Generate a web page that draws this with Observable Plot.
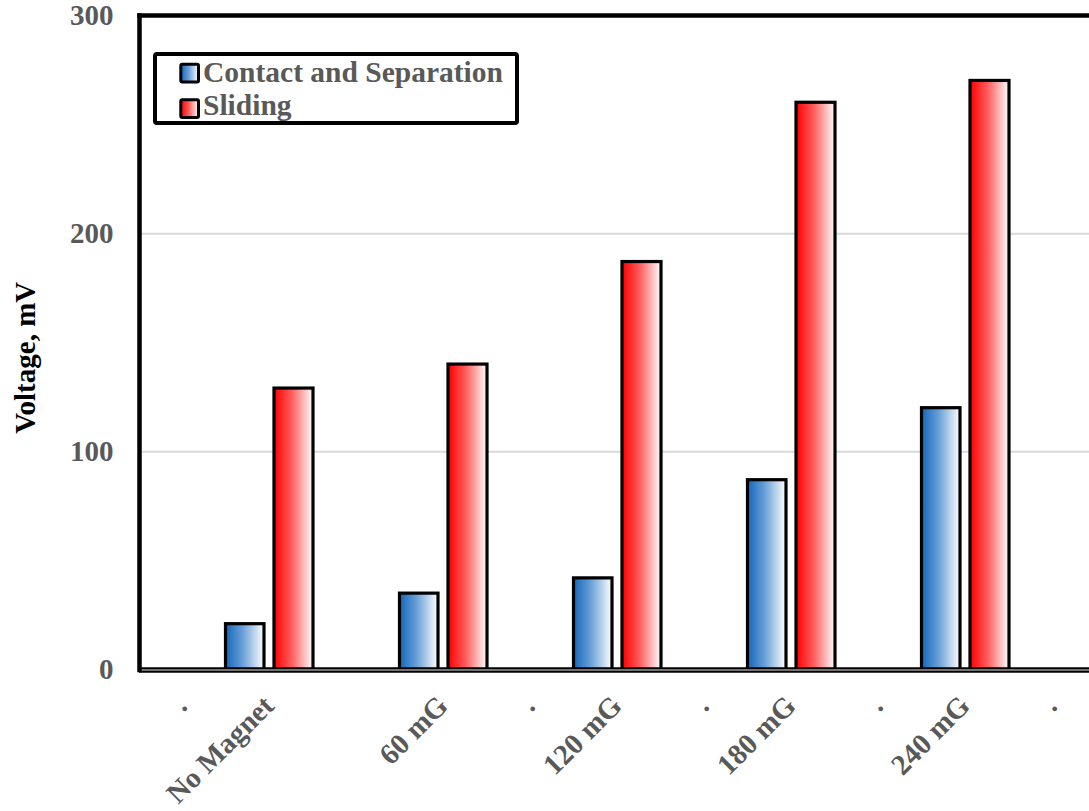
<!DOCTYPE html>
<html><head><meta charset="utf-8">
<script src="https://cdn.jsdelivr.net/npm/d3@7"></script>
<script src="https://cdn.jsdelivr.net/npm/@observablehq/plot@0.6"></script>
<style>
body{margin:0;background:#fff}
#chart{width:1089px;height:811px;overflow:hidden;position:relative;background:#fff}
</style>
</head><body><div id="chart"></div>
<script>
const categories = ["gap0","No Magnet","gap1","60 mG","gap2","120 mG","gap3","180 mG","gap4","240 mG","gap5"];
const tickLabels = [".","No Magnet","","60 mG",".","120 mG",".","180 mG",".","240 mG","."];
const groups = ["No Magnet","60 mG","120 mG","180 mG","240 mG"];
const contactSeparation = [21,35,42,87,120];
const sliding = [129,140,187,260,270];
const yTicks = [0,100,200,300];
const seriesNames = ["Contact and Separation","Sliding"];
const yTitle = "Voltage, mV";

const rows = groups.map((g,i)=>({cat:g, cs:contactSeparation[i], sl:sliding[i]}));
const font = "'Times New Roman','Liberation Serif',serif";
const gray = "#595959";

const svg = Plot.plot({
  width:1089, height:811,
  marginLeft:139, marginTop:15, marginBottom:141.5, marginRight:0,
  style:{fontFamily:font, background:"#fff", overflow:"hidden"},
  x:{type:"band", domain:categories, range:[138,1095], padding:0},
  y:{domain:[0,300]},
  marks:[
    Plot.gridY({ticks:[100,200], stroke:"#d9d9d9", strokeOpacity:1, strokeWidth:2}),
    Plot.barY(rows, {x:"cat", y:"cs", fill:"url(#gradBlue)", stroke:"black", strokeWidth:3.2, insetLeft:0.5, insetRight:48}),
    Plot.barY(rows, {x:"cat", y:"sl", fill:"url(#gradRed)", stroke:"black", strokeWidth:3.2, insetLeft:49, insetRight:-1}),
    Plot.ruleY([0], {stroke:"black", strokeWidth:5.5}),
    Plot.ruleY([0], {stroke:"#9a9a9a", strokeWidth:1.5}),
    Plot.frame({anchor:"left", stroke:"black", strokeWidth:4.5}),
    Plot.frame({anchor:"top", stroke:"black", strokeWidth:4.5}),
    Plot.axisY({ticks:yTicks, tickSize:0, tickPadding:26, label:null, fill:gray, fontSize:29, fontWeight:"bold"}),
    Plot.axisX({tickSize:0, tickRotate:-45, tickPadding:31, label:null, fill:gray, fontSize:29, fontWeight:"bold",
      tickFormat:d=>tickLabels[categories.indexOf(d)]}),
    Plot.text([yTitle], {frameAnchor:"left", textAnchor:"middle", lineAnchor:"middle", dx:-114, dy:15, rotate:-90, fontSize:29, fontWeight:"bold", fill:"black"})
  ]
});

const s = d3.select(svg);
const defs = s.insert("defs", ":first-child");
function grad(id, c0, cm){
  const g = defs.append("linearGradient").attr("id", id).attr("x1","0").attr("x2","1").attr("y1","0").attr("y2","0");
  g.append("stop").attr("offset","0%").attr("stop-color",c0);
  g.append("stop").attr("offset","45%").attr("stop-color",cm);
  g.append("stop").attr("offset","100%").attr("stop-color","#ffffff");
}
grad("gradBlue","#1466bb","#6aa0d8");
grad("gradRed","#ff0000","#ff5c5c");

const lg = s.append("g").attr("font-family", font).attr("text-anchor","start");
lg.append("rect").attr("x",155).attr("y",54).attr("width",362).attr("height",69)
  .attr("fill","#fff").attr("stroke","black").attr("stroke-width",4).attr("rx",2);
const legendItems = [{name:seriesNames[0], fill:"url(#gradBlue)", y:64.2, ty:82},
                     {name:seriesNames[1], fill:"url(#gradRed)", y:99.8, ty:114.5}];
legendItems.forEach(it=>{
  lg.append("rect").attr("x",180.8).attr("y",it.y).attr("width",17.7).attr("height",17.7)
    .attr("fill",it.fill).attr("stroke","black").attr("stroke-width",3).attr("rx",1.5);
  lg.append("text").attr("x",203).attr("y",it.ty).attr("font-size",29.5).attr("font-weight","bold")
    .attr("text-anchor","start").attr("fill",gray).text(it.name);
});

document.getElementById("chart").appendChild(svg);
</script>
</body></html>
